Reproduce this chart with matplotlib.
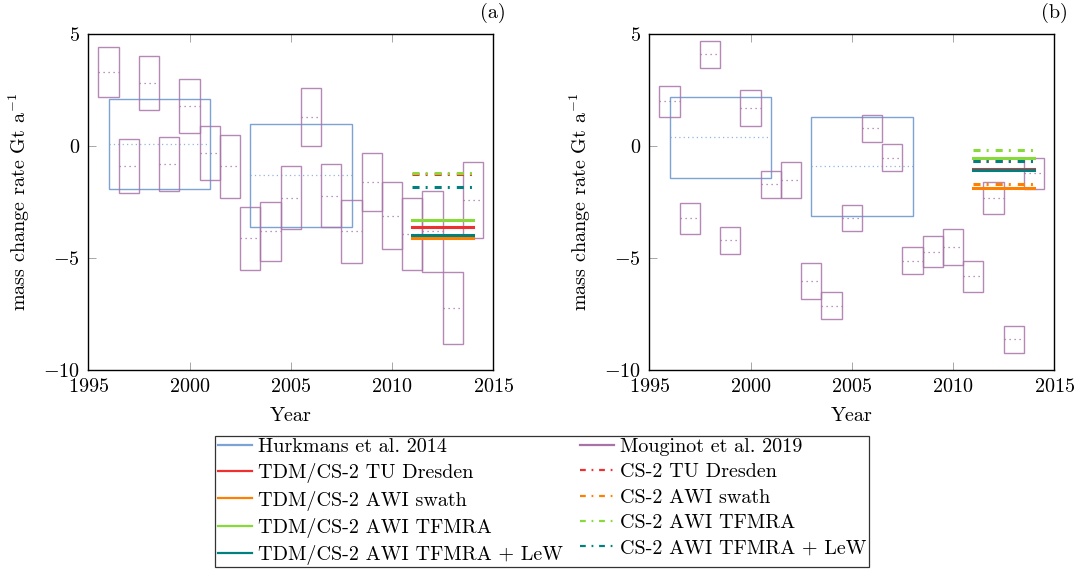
import matplotlib
matplotlib.use("Agg")
import matplotlib.pyplot as plt
from matplotlib.lines import Line2D
import numpy as np

plt.rcParams['font.family'] = ['cmr10', 'DejaVu Serif']
plt.rcParams['mathtext.fontset'] = 'cm'
plt.rcParams['axes.formatter.use_mathtext'] = True
plt.rcParams['font.size'] = 14.5

# ---------------- data ----------------
mou_years = list(range(1996, 2015))
# panel (a)
mou_a_up = [4.42, 0.31, 4.02, 0.40, 3.00, 0.89, 0.49, -2.70, -2.51, -0.90,
            2.60, -0.81, -2.40, -0.30, -1.61, -2.31, -2.02, -5.62, -0.70]
mou_a_lo = [2.20, -2.10, 1.60, -2.02, 0.59, -1.52, -2.31, -5.52, -5.11, -3.71,
            0.00, -3.61, -5.22, -2.91, -4.61, -5.52, -5.62, -8.82, -4.12]
mou_a_mid = [3.30, -0.90, 2.81, -0.81, 1.80, -0.30, -0.90, -4.12, -3.80, -2.30,
             1.29, -2.21, -3.80, -1.61, -3.10, -3.91, -3.80, -7.21, -2.40]
# panel (b)
mou_b_up = [2.71, -2.52, 4.70, -3.61, 2.50, -1.11, -0.70, -5.22, -6.53, -2.61,
            1.40, 0.08, -4.52, -4.01, -3.71, -5.11, -1.61, -8.02, -0.51]
mou_b_lo = [1.29, -3.91, 3.50, -4.82, 0.89, -2.31, -2.31, -6.83, -7.73, -3.81,
            0.19, -1.11, -5.72, -5.41, -5.32, -6.53, -3.01, -9.22, -1.91]
mou_b_mid = [2.01, -3.21, 4.11, -4.20, 1.69, -1.70, -1.51, -6.02, -7.12, -3.21,
             0.80, -0.51, -5.11, -4.71, -4.52, -5.81, -2.31, -8.63, -1.21]

hur_start = [1996, 2003]
hur_end = [2001, 2008]
hur_a_up = [2.10, 1.01]
hur_a_lo = [-1.91, -3.61]
hur_a_mid = [0.10, -1.30]
hur_b_up = [2.20, 1.29]
hur_b_lo = [-1.40, -3.12]
hur_b_mid = [0.40, -0.90]

tdm_start, tdm_end = 2011, 2014
series_names = ['TU Dresden', 'AWI swath', 'AWI TFMRA', 'AWI TFMRA + LeW']
tdm_a = [-3.60, -4.09, -3.31, -3.95]     # TDM/CS-2 (solid)
cs2_a = [-1.26, -3.31, -1.18, -1.82]     # CS-2 (dash-dot)
tdm_b = [-1.02, -1.85, -0.54, -1.08]
cs2_b = [-0.65, -1.70, -0.18, -0.66]

# ---------------- style ----------------
c_hur = '#7ba3d4'
c_mou = '#a874a8'
series_colors = ['#ee3030', '#ff8000', '#88d93a', '#00807e']
dashdot = (0, (2.3, 2.0, 0.65, 2.3))

W, H = 1077, 570
fig = plt.figure(figsize=(W / 100, H / 100), dpi=100)
ax_a = fig.add_axes([88.3 / W, 1 - 370 / H, 405 / W, (370 - 34.3) / H])
ax_b = fig.add_axes([649.3 / W, 1 - 370 / H, 405 / W, (370 - 34.3) / H])


def draw(ax, mu, ml, mm, hu, hl, hm, tdm, cs2, tag):
    # Hurkmans boxes
    hs = np.array(hur_start, float)
    he = np.array(hur_end, float)
    ax.bar(hs, np.array(hu) - np.array(hl), bottom=hl, width=he - hs,
           align='edge', fill=False, edgecolor=c_hur, linewidth=1.0, zorder=2)
    ax.hlines(hm, hs, he, colors=c_hur, linestyles=[(0, (1, 2.5))],
              linewidth=0.9, alpha=0.8, zorder=2)
    # Mouginot boxes
    yrs = np.array(mou_years, float)
    ax.bar(yrs, np.array(mu) - np.array(ml), bottom=ml, width=1.0,
           align='center', fill=False, edgecolor=c_mou, linewidth=1.0,
           alpha=0.85, zorder=3)
    ax.hlines(mm, yrs - 0.5, yrs + 0.5, colors=c_mou,
              linestyles=[(0, (1, 3))], linewidth=0.9, zorder=3)
    # TDM / CS-2 lines
    for v, c in zip(cs2, series_colors):
        ax.plot([tdm_start, tdm_end], [v, v], color=c, linewidth=2.2,
                linestyle=dashdot, zorder=4)
    for v, c in zip(tdm, series_colors):
        ax.plot([tdm_start, tdm_end], [v, v], color=c, linewidth=2.2,
                linestyle='-', zorder=5)

    ax.set_xlim(1995, 2015)
    ax.set_ylim(-10, 5)
    ax.set_xticks([1995, 2000, 2005, 2010, 2015])
    ax.set_yticks([-10, -5, 0, 5])
    ax.tick_params(direction='in', length=6, width=0.6, color='#999999',
                   top=True, right=False, pad=6)
    for s in ax.spines.values():
        s.set_linewidth(1.0)
    ax.set_xlabel('Year', labelpad=8)
    ax.set_ylabel(r'mass change rate Gt a$^{-1}$', labelpad=8)
    ax.annotate(tag, xy=(1.0, 1.0), xycoords='axes fraction',
                xytext=(0, 8), textcoords='offset points',
                ha='center', va='bottom')


draw(ax_a, mou_a_up, mou_a_lo, mou_a_mid, hur_a_up, hur_a_lo, hur_a_mid,
     tdm_a, cs2_a, '(a)')
draw(ax_b, mou_b_up, mou_b_lo, mou_b_mid, hur_b_up, hur_b_lo, hur_b_mid,
     tdm_b, cs2_b, '(b)')

# legend
left_h = [Line2D([], [], color=c_hur, lw=1.6)] + \
         [Line2D([], [], color=c, lw=1.6) for c in series_colors]
left_l = ['Hurkmans et al. 2014'] + ['TDM/CS-2 ' + n for n in series_names]
right_h = [Line2D([], [], color=c_mou, lw=1.6)] + \
          [Line2D([], [], color=c, lw=1.6, linestyle=(0, (2.6, 2.6, 0.8, 2.6)))
           for c in series_colors]
right_l = ['Mouginot et al. 2019'] + ['CS-2 ' + n for n in series_names]
leg = fig.legend(left_h + right_h, left_l + right_l, ncol=2,
                 loc='upper center', bbox_to_anchor=(542 / W, 1 - 435.5 / H),
                 borderaxespad=0, fancybox=False, edgecolor='#333333',
                 framealpha=1, handlelength=1.7, handletextpad=0.3,
                 labelspacing=0.36, columnspacing=0.85, borderpad=0.12,
                 fontsize=14.5)
leg.get_frame().set_linewidth(0.9)

fig.savefig('out.png', dpi=100)
